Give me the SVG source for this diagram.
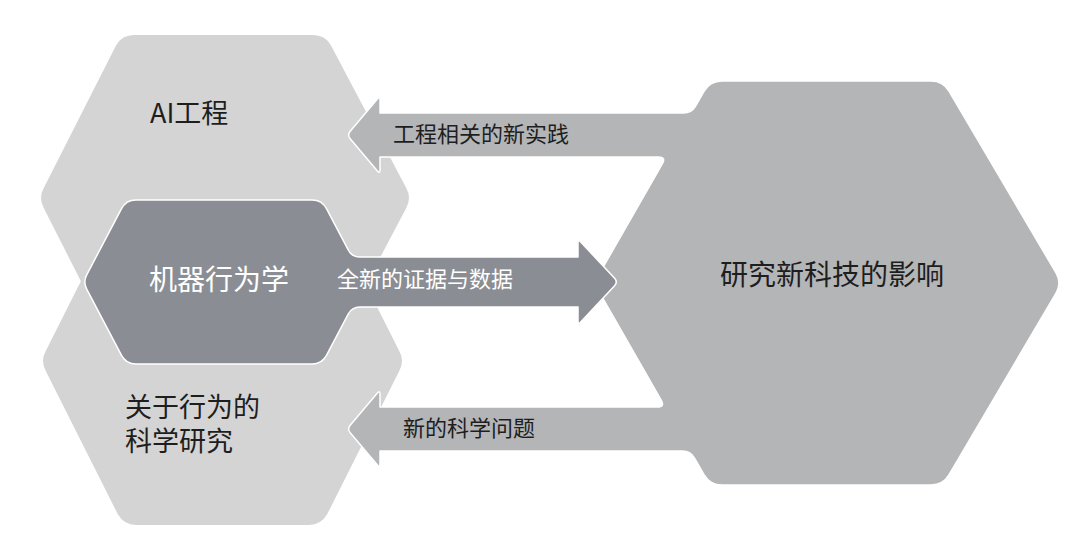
<svg xmlns="http://www.w3.org/2000/svg" width="1080" height="545" viewBox="0 0 1080 545">
  <style>
    .light { fill: #d4d4d5; stroke: none; }
    .mid { fill: #b4b5b7; stroke: #ffffff; stroke-width: 1.5; stroke-linejoin: round; }
    .dark { fill: #8a8e94; stroke: #ffffff; stroke-width: 1.5; stroke-linejoin: round; }
    text { font-family: "Noto Sans CJK SC", "Noto Sans", sans-serif; }
    .lbl { fill: #1e1e1e; font-size: 27px; }
    .lblw { fill: #ffffff; font-size: 28px; }
    .edge { fill: #1e1e1e; font-size: 22px; }
    .edgew { fill: #ffffff; font-size: 22px; }
  </style>
  <rect width="1080" height="545" fill="#ffffff"/>

  <g id="node-ai-engineering">
    <path class="light" d="M44,187.6 L116,45.4 Q122,35 134,35 L313,35 Q325,35 331,45.4 L406,187.6 Q412,198 406,208.4 L331,350.6 Q325,361 313,361 L134,361 Q122,361 116,350.6 L44,208.4 Q38,198 44,187.6 Z"/>
    <text class="lbl" x="150" y="123">AI工程</text>
  </g>

  <g id="node-behavior-science">
    <path class="light" d="M46,350.6 L118,207.4 Q124,197 136,197 L309,197 Q321,197 327,207.4 L399,350.6 Q405,361 399,371.4 L327,514.6 Q321,525 309,525 L136,525 Q124,525 118,514.6 L46,371.4 Q40,361 46,350.6 Z"/>
    <text class="lbl" x="125" y="417"><tspan x="125" y="417">关于行为的</tspan><tspan x="125" y="451">科学研究</tspan></text>
  </g>

  <g id="connectors">
    <path id="conn-impact" class="mid" d="M350.2,138.8 Q347,135 350.2,131.2 L377.4,99.1 Q380,96 380,100 L380,113 L683.6,113 Q691.6,113 695.6,106.1 L704,91.4 Q710,81 722,81 L931,81 Q943,81 949.1,91.3 L1055.9,272.7 Q1062,283 1055.9,293.3 L949.1,474.7 Q943,485 931,485 L722,485 Q710,485 704,474.6 L694.4,457.9 Q690.4,451 682.4,451 L380,451 L380,464 Q380,468 377.4,464.9 L350.2,432.8 Q347,429 350.2,425.2 L377.4,393.1 Q380,390 380,394 L380,407 L657.2,407 Q665.2,407 661.2,400.1 L599,291.7 Q594,283 599,274.3 L662.3,163.9 Q666.3,157 658.3,157 L380,157 L380,170 Q380,174 377.4,170.9 Z"/>
    <text class="edge" x="393" y="142">工程相关的新实践</text>
    <text class="edge" x="403" y="436">新的科学问题</text>
  </g>

  <g id="node-impact">
    <text class="lbl" x="720" y="285" style="font-size:28px">研究新科技的影响</text>
  </g>

  <g id="node-machine-behavior">
    <path class="dark" d="M614.6,285.7 Q618,282 614.6,278.3 L580.7,241.9 Q578,239 578,243 L578,257 L359.9,257 Q351.9,257 348.2,249.9 L326.6,208.9 Q322,200 312,200 L136,200 Q126,200 121.4,208.9 L86.7,274.9 Q83,282 86.7,289.1 L121.4,355.1 Q126,364 136,364 L312,364 Q322,364 326.6,355.1 L348.2,314.1 Q351.9,307 359.9,307 L578,307 L578,321 Q578,325 580.7,322.1 Z"/>
    <text class="lblw" x="149" y="290">机器行为学</text>
    <text class="edgew" x="337" y="287">全新的证据与数据</text>
  </g>
</svg>
